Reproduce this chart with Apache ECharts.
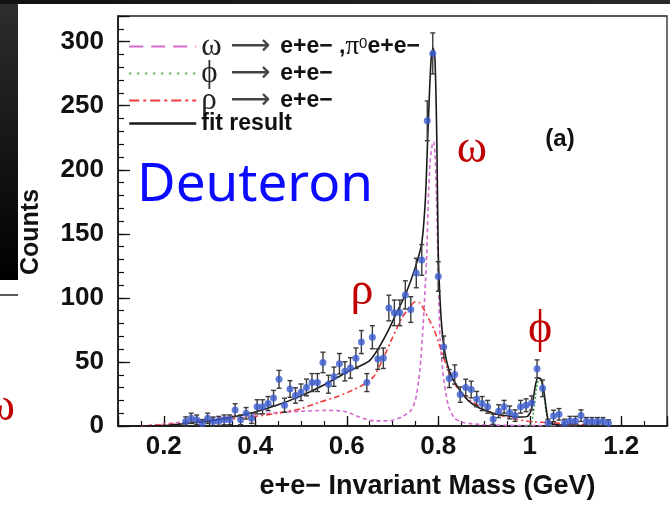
<!DOCTYPE html>
<html>
<head>
<meta charset="utf-8">
<script src="https://cdn.jsdelivr.net/npm/echarts@6.0.0/dist/echarts.min.js"></script>
<style>
  html, body { margin: 0; padding: 0; background: #fff; }
  #chart { width: 670px; height: 505px; }
</style>
</head>
<body>
<div id="chart"></div>
<script>
  // measured e+e- pairs, bin centres (GeV)
  const massBins = [
    0.248, 0.260, 0.272, 0.284, 0.296, 0.308, 0.320, 0.332, 0.344, 0.356,
    0.368, 0.380, 0.392, 0.404, 0.416, 0.428, 0.440, 0.452, 0.464, 0.476,
    0.488, 0.500, 0.512, 0.524, 0.536, 0.548, 0.560, 0.572, 0.584, 0.596,
    0.608, 0.620, 0.632, 0.644, 0.656, 0.668, 0.680, 0.692, 0.704, 0.716,
    0.728, 0.740, 0.752, 0.764, 0.776, 0.788, 0.800, 0.812, 0.824, 0.836,
    0.848, 0.860, 0.872, 0.884, 0.896, 0.908, 0.920, 0.932, 0.944, 0.956,
    0.968, 0.980, 0.992, 1.004, 1.016, 1.028, 1.040, 1.052, 1.064, 1.076,
    1.088, 1.100, 1.112, 1.124, 1.136, 1.148, 1.160, 1.172
  ];
  const counts = [
    3.6, 6, 4.8, 2, 6, 3.5, 4, 4.8, 4.8, 12.4,
    4.8, 9.9, 6, 15, 15, 17.5, 21.8, 36.4, 16.2, 28.9,
    23.8, 26.3, 30.1, 33.9, 33.9, 49.6, 32.6, 38.5, 48.6, 42.7,
    45.3, 52.9, 65.5, 33.9, 69.3, 52.2, 52.9, 92.1, 88.3, 88.3,
    102.3, 90.9, 119.4, 129.6, 238.2, 290.8, 116.7, 61.7, 37, 40.2,
    24.5, 30, 28.5, 21, 17.5, 15, 5.3, 11.6, 15, 10.6,
    8.1, 15, 16.2, 18, 44.6, 29.4, 2.3, 7.8, 9.1, 2.3,
    4, 4, 8.1, 3.6, 3.6, 3.6, 3.6, 2.3
  ];
  const countErrors = [
    3.5, 4, 3.8, 3, 4, 3.5, 3.5, 3.8, 3.8, 5,
    3.8, 4.5, 4, 5.5, 5.5, 5.5, 6, 7, 5.5, 6.5,
    6, 6.5, 6.5, 7, 7, 8, 7, 7.5, 8, 7.5,
    8, 8, 9, 7, 9, 8, 8, 10, 10, 10,
    11, 10, 11.5, 12, 15.5, 16, 11.5, 8.5, 7, 7.5,
    6, 6.5, 6.5, 6, 5.5, 5, 4, 5, 5, 5,
    4.5, 5, 5, 5.5, 7, 6.5, 3, 4.5, 4.5, 3,
    3.5, 3.5, 4.5, 3, 3, 3, 3, 2.5
  ];

  // fitted curves [mass, counts]
  const fitCurve = [
    [0.12, 0], [0.2, 0.3], [0.25, 2], [0.3, 4], [0.35, 7], [0.4, 11], [0.45, 16.5],
    [0.5, 23.5], [0.55, 32], [0.6, 42], [0.63, 47], [0.65, 51], [0.67, 61], [0.69, 74],
    [0.71, 89], [0.73, 104], [0.75, 124], [0.764, 143], [0.772, 178], [0.777, 225],
    [0.781, 262], [0.785, 289], [0.789, 295], [0.793, 285], [0.797, 220], [0.8, 135],
    [0.804, 98], [0.808, 76], [0.812, 63], [0.82, 48], [0.83, 38], [0.845, 29],
    [0.865, 20], [0.89, 14], [0.92, 10], [0.95, 8], [0.98, 7], [0.995, 7.5],
    [1.003, 12], [1.008, 22], [1.013, 33], [1.018, 37.5], [1.024, 37], [1.03, 29],
    [1.035, 16], [1.04, 5], [1.046, 2], [1.06, 1], [1.1, 0.5], [1.15, 0.3]
  ];
  const omegaCurve = [
    [0.15, 0], [0.2, 1.5], [0.25, 3.5], [0.3, 5.5], [0.35, 7.5], [0.4, 9], [0.45, 10.5],
    [0.5, 11.5], [0.55, 12.2], [0.58, 12], [0.6, 11], [0.62, 8], [0.64, 5.5], [0.66, 4],
    [0.68, 4], [0.7, 4.5], [0.72, 7], [0.74, 12], [0.75, 20], [0.757, 35], [0.762, 52],
    [0.767, 79], [0.771, 105], [0.775, 135], [0.778, 175], [0.782, 205], [0.786, 218],
    [0.79, 222], [0.793, 212], [0.796, 181], [0.8, 117], [0.804, 67], [0.808, 50],
    [0.811, 39], [0.816, 27], [0.822, 16], [0.829, 10], [0.836, 6], [0.85, 3],
    [0.88, 1.5], [0.95, 0.5], [1.1, 0.2]
  ];
  const rhoCurve = [
    [0.15, 0], [0.2, 1], [0.25, 2.3], [0.3, 4], [0.35, 5.5], [0.4, 7.5], [0.45, 10],
    [0.5, 13.5], [0.54, 18.5], [0.58, 23], [0.61, 27.5], [0.64, 33], [0.66, 39],
    [0.68, 53], [0.7, 69], [0.72, 84], [0.74, 94], [0.75, 97], [0.76, 96], [0.77, 90],
    [0.78, 83], [0.79, 76], [0.8, 66], [0.81, 55], [0.82, 45], [0.83, 36], [0.85, 26],
    [0.87, 20], [0.9, 13], [0.93, 9], [0.96, 6], [1.0, 3.5], [1.05, 2.5], [1.1, 1.5],
    [1.15, 1]
  ];
  const phiCurve = [
    [0.99, 0], [1.0, 0.5], [1.005, 4], [1.01, 16], [1.015, 30], [1.02, 36], [1.025, 35.5],
    [1.03, 27], [1.035, 13], [1.04, 3], [1.045, 0.5], [1.05, 0]
  ];

  const seriesNames = ['omega', 'phi', 'rho', 'fit'];
  const legendLabels = [
    '{g|ω}{a|⟶}{t|e+e− ,}{p|π}{s|0}{t|e+e−}',
    '{g|ϕ}{a|⟶}{t|e+e−}',
    '{g|ρ}{a|⟶}{t|e+e−}',
    '{t|fit result}'
  ];

  const errorData = massBins.map((m, i) => [m, Math.max(0, counts[i] - countErrors[i]), counts[i] + countErrors[i]]);
  const pointData = massBins.map((m, i) => [m, counts[i]]);

  function renderErrorBar(params, api) {
    const top = api.coord([api.value(0), api.value(2)]);
    const bottom = api.coord([api.value(0), api.value(1)]);
    const w = 2.5;
    const style = { stroke: '#3a3a3a', lineWidth: 1.4 };
    return {
      type: 'group',
      children: [
        { type: 'line', shape: { x1: top[0], y1: top[1], x2: bottom[0], y2: bottom[1] }, style: style },
        { type: 'line', shape: { x1: top[0] - w, y1: top[1], x2: top[0] + w, y2: top[1] }, style: style },
        { type: 'line', shape: { x1: bottom[0] - w, y1: bottom[1], x2: bottom[0] + w, y2: bottom[1] }, style: style }
      ]
    };
  }

  const chart = echarts.init(document.getElementById('chart'));
  const axisFont = { fontFamily: 'Liberation Sans', fontWeight: 'bold', fontSize: 26, color: '#111' };
  const greek = { fontFamily: 'Liberation Serif', fontSize: 46, fill: '#c00000' };

  chart.setOption({
    animation: false,
    backgroundColor: '#fff',
    grid: { left: 118, right: 2, top: 16, bottom: 67, show: true, borderColor: '#222', borderWidth: 1.3, backgroundColor: '#fff' },
    legend: {
      orient: 'vertical', left: 128, top: 31, padding: 0, itemGap: -4,
      itemWidth: 67, itemHeight: 14, itemTextGap: 8,
      itemStyle: { opacity: 0 },
      data: [
        { name: 'omega', lineStyle: { type: [14, 8], width: 2 } },
        { name: 'phi', lineStyle: { type: [2, 6], width: 2 } },
        { name: 'rho', lineStyle: { type: [10, 4, 3, 4], width: 2 } },
        { name: 'fit', lineStyle: { width: 2.5 } }
      ],
      formatter: name => legendLabels[seriesNames.indexOf(name)],
      textStyle: {
        lineHeight: 21,
        rich: {
          g: { fontFamily: 'Liberation Serif', fontSize: 31, color: '#222', width: 29, lineHeight: 21 },
          a: { fontFamily: 'DejaVu Sans', fontSize: 28, color: '#444', width: 50, lineHeight: 21 },
          t: { fontFamily: 'Liberation Sans', fontWeight: 'bold', fontSize: 23, color: '#111', lineHeight: 21 },
          p: { fontFamily: 'Liberation Serif', fontSize: 27, color: '#111', lineHeight: 21 },
          s: { fontFamily: 'Liberation Sans', fontSize: 15, color: '#111', verticalAlign: 'top', lineHeight: 21 }
        }
      }
    },
    xAxis: [
      {
        type: 'value', min: 0.1, max: 1.3, splitNumber: 6, position: 'bottom',
        name: 'e+e− Invariant Mass (GeV)', nameLocation: 'middle', nameGap: 47,
        nameTextStyle: { fontFamily: 'Liberation Sans', fontWeight: 'bold', fontSize: 27, color: '#111', padding: [0, 0, 0, 70] },
        axisLine: { lineStyle: { color: '#111', width: 1.5 } },
        axisTick: { inside: true, length: 10, lineStyle: { color: '#111', width: 1.3 } },
        axisLabel: Object.assign({ margin: 8, formatter: v => (v < 0.15 || v > 1.25) ? '' : String(+v.toFixed(1)) }, axisFont),
        splitLine: { show: false }
      },
      {
        type: 'value', min: 0.1, max: 1.3, interval: 0.05, position: 'bottom',
        axisLine: { show: false }, axisLabel: { show: false }, splitLine: { show: false },
        axisTick: { inside: true, length: 5, lineStyle: { color: '#111', width: 1.2 } }
      }
    ],
    yAxis: [
      {
        type: 'value', min: 0, max: 320, interval: 50, position: 'left',
        name: 'Counts', nameLocation: 'middle', nameGap: 74, nameRotate: 90,
        nameTextStyle: { fontFamily: 'Liberation Sans', fontWeight: 'bold', fontSize: 25, color: '#111', padding: [0, 22, 0, 0] },
        axisLine: { lineStyle: { color: '#111', width: 1.5 } },
        axisTick: { inside: true, length: 12, lineStyle: { color: '#111', width: 1.3 } },
        axisLabel: Object.assign({ margin: 14, formatter: v => v > 300 ? '' : String(v) }, axisFont),
        splitLine: { show: false }
      },
      {
        type: 'value', min: 0, max: 320, interval: 10, position: 'left',
        axisLine: { show: false }, axisLabel: { show: false }, splitLine: { show: false },
        axisTick: { inside: true, length: 6, lineStyle: { color: '#111', width: 1.2 } }
      }
    ],
    series: [
      { name: 'omega', type: 'line', data: omegaCurve, smooth: 0.2, symbol: 'none', z: 2,
        lineStyle: { color: '#d36bcf', width: 1.6, type: [4, 3] }, itemStyle: { color: '#d36bcf' } },
      { name: 'phi', type: 'line', data: phiCurve, smooth: 0.2, symbol: 'none', z: 2,
        lineStyle: { color: '#4fae5c', width: 1.6, type: [2, 2] }, itemStyle: { color: '#4fae5c' } },
      { name: 'rho', type: 'line', data: rhoCurve, smooth: 0.2, symbol: 'none', z: 2,
        lineStyle: { color: '#f03c3c', width: 1.6, type: [6, 3, 2, 3] }, itemStyle: { color: '#f03c3c' } },
      { name: 'fit', type: 'line', data: fitCurve, smooth: 0.2, symbol: 'none', z: 3,
        lineStyle: { color: '#1a1a1a', width: 1.6 }, itemStyle: { color: '#1a1a1a' } },
      { type: 'custom', data: errorData, renderItem: renderErrorBar, z: 4, encode: { x: 0, y: [1, 2] } },
      { type: 'scatter', data: pointData, symbolSize: 7, z: 5, itemStyle: { color: '#3b5cd0' } }
    ],
    graphic: [
      { type: 'rect', left: 0, top: 0, shape: { width: 18, height: 280 }, z: 100,
        style: { fill: new echarts.graphic.LinearGradient(0, 0, 1, 1, [{ offset: 0, color: '#2e2e2e' }, { offset: 1, color: '#000' }]) } },
      { type: 'rect', left: 0, top: 0, shape: { width: 670, height: 4 }, z: 100,
        style: { fill: new echarts.graphic.LinearGradient(0, 0, 1, 0, [{ offset: 0, color: '#111' }, { offset: 1, color: '#2a2a2a' }]) } },
      { type: 'line', shape: { x1: 0, y1: 295, x2: 18, y2: 295 }, z: 100, style: { stroke: '#222', lineWidth: 1.5 } },
      { type: 'text', z: 100, style: Object.assign({ x: 0, y: 408, text: 'ω', align: 'center', verticalAlign: 'middle' }, greek) },
      { type: 'text', z: 100, style: { x: 137, y: 186, text: 'Deuteron', fontFamily: 'Noto Sans', fontSize: 53, fill: '#0a0aff', verticalAlign: 'middle' } },
      { type: 'text', z: 100, style: Object.assign({ x: 472, y: 150, text: 'ω', align: 'center', verticalAlign: 'middle' }, greek) },
      { type: 'text', z: 100, style: Object.assign({ x: 362, y: 292, text: 'ρ', align: 'center', verticalAlign: 'middle' }, greek) },
      { type: 'text', z: 100, style: Object.assign({ x: 540, y: 330, text: 'ϕ', align: 'center', verticalAlign: 'middle' }, greek) },
      { type: 'text', z: 100, style: { x: 560, y: 139, text: '(a)', fontFamily: 'Liberation Sans', fontWeight: 'bold', fontSize: 24, fill: '#111', align: 'center', verticalAlign: 'middle' } }
    ]
  });
</script>
</body>
</html>
